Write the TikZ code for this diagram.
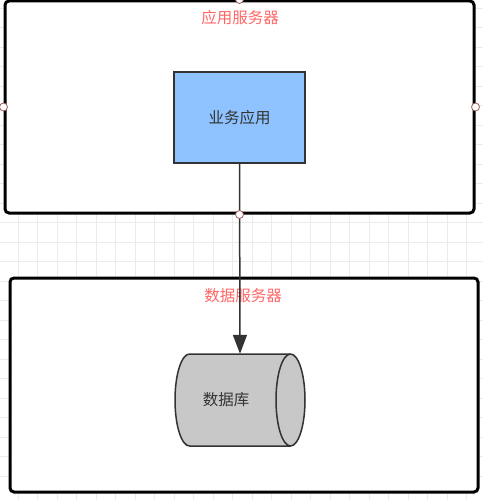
\documentclass[tikz,border=0pt]{standalone}
\usepackage{fontspec}
\setmainfont{Noto Sans CJK SC}
\usetikzlibrary{arrows.meta}
\definecolor{titlered}{HTML}{FF6666}
\definecolor{appblue}{HTML}{8FC3FF}
\definecolor{dbgray}{HTML}{C8C8C8}
\definecolor{inkgray}{HTML}{333333}
\definecolor{gridline}{HTML}{EBEBEB}
\definecolor{handlered}{HTML}{A05A5A}
\tikzset{
    serverbox/.style={draw=black, line width=3pt, rounded corners=4pt, fill=white},
    appbox/.style={draw=inkgray, line width=1.5pt, fill=appblue, text=inkgray},
    dbline/.style={draw=inkgray, line width=1.5pt, fill=dbgray},
    servertitle/.style={text=titlered},
    handle/.style={circle, draw=handlered, fill=white, line width=0.8pt, inner sep=0pt, minimum size=8pt},
    flow/.style={draw=inkgray, line width=1.5pt, -{Triangle[length=19pt,width=14pt]}}
}
\begin{document}
\begin{tikzpicture}[x=1pt, y=-1pt, font=\fontsize{15.5}{18}\selectfont]
    \useasboundingbox (0,0) rectangle (483,500);
    \fill[white] (0,0) rectangle (483,500);
    \foreach \k in {-1,...,24} {
        \draw[gridline, line width=0.8pt] (18.3+19.5*\k,0) -- (18.3+19.5*\k,500);
        \draw[gridline, line width=0.8pt] (0,8.2+19.5*\k) -- (483,8.2+19.5*\k);
    }

    \node[serverbox, minimum width=469pt, minimum height=212pt] (appsrv) at (239.5,107) {};
    \node[serverbox, minimum width=468pt, minimum height=214pt] (datasrv) at (244,385) {};
    \node[servertitle] (apptitle) at (240,18) {应用服务器};
    \node[servertitle] (datatitle) at (243,296) {数据服务器};

    \node[appbox, minimum width=131pt, minimum height=91pt] (app) at (239.5,117.5) {业务应用};

    \node[inner sep=0pt, minimum width=130pt, minimum height=92pt] (db) at (240,400) {};
    \draw[dbline] (189.5,354) -- (290.5,354)
        arc[start angle=-90, end angle=90, x radius=14.5, y radius=46]
        -- (189.5,446)
        arc[start angle=90, end angle=270, x radius=14.5, y radius=46] -- cycle;
    \draw[dbline, fill=none] (290.5,354)
        arc[start angle=-90, end angle=-270, x radius=14.5, y radius=46];
    \node[text=inkgray] (dblabel) at (226,400) {数据库};

    \draw[flow] (app.south) -- (db.north);

    \node[handle] (hw) at (appsrv.west) {};
    \node[handle] (he) at (appsrv.east) {};
    \node[handle] (hn) at (appsrv.north) {};
    \node[handle] (hs) at (appsrv.south) {};
\end{tikzpicture}
\end{document}
